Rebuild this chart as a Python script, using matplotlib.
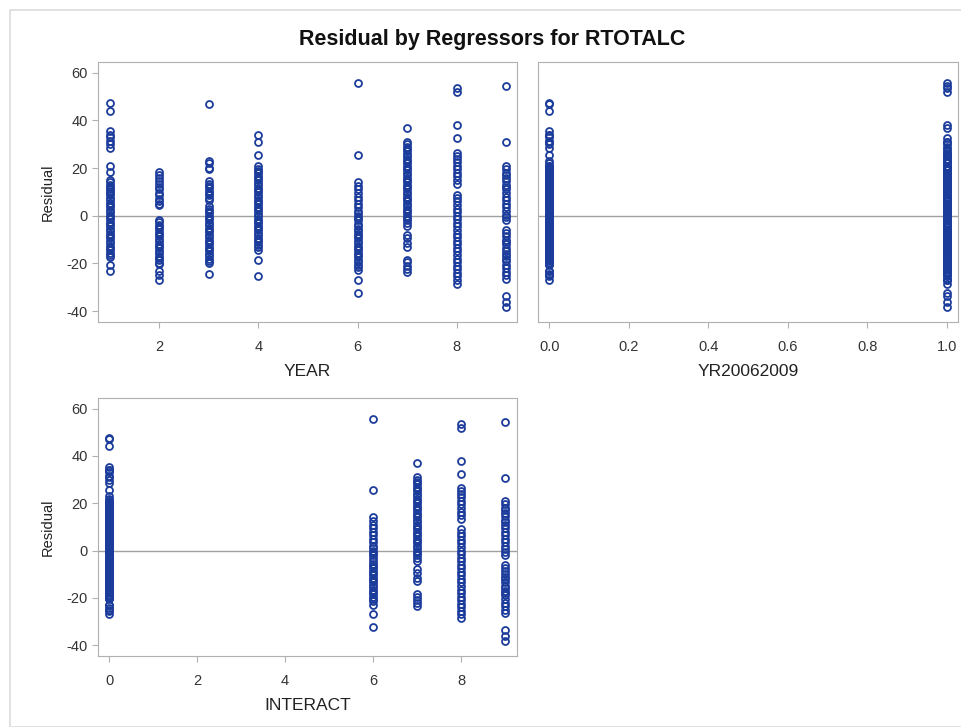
import matplotlib.pyplot as plt
from matplotlib.patches import Rectangle

plt.rcParams['font.family'] = ['Liberation Sans', 'DejaVu Sans']
plt.rcParams['axes.unicode_minus'] = False

# residuals, grouped by YEAR
years = [1, 2, 3, 4, 6, 7, 8, 9]
resid_by_year = [
    [47.5, 44, 35.5, 34, 33, 31.5, 30, 28.5, 21, 18.5, 15, 14, 13, 12, 11, 10.2, 9.5, 8.5, 7.5,
     6.5, 5.5, 4.5, 3.5, 2.5, 1.5, 0.5, -0.5, -1.5, -2.5, -3.5, -4.5, -5.5, -6.5, -7.5, -8.5,
     -9.5, -10.5, -11.5, -12.5, -13.5, -14.5, -15.5, -16.5, -17.2, -20.5, -23],
    [18.5, 17.2, 16, 14.7, 13.5, 12.2, 11, 9.7, 8.5, 7.2, 6, 5, 4.5, -1.7, -2.7, -3.7, -4.7,
     -5.7, -6.7, -7.7, -8.7, -9.7, -10.7, -11.7, -12.7, -13.7, -14.7, -15.7, -16.7, -17.7,
     -18.7, -19.7, -20.2, -23, -25, -27],
    [47, 23, 22, 20.2, 19.5, 14.5, 13.5, 12.5, 11.5, 10.5, 9.5, 8.5, 7.5, 6.8, 4, 3, 2, 1, 0,
     -1, -2, -3, -4, -5, -6, -7, -8, -9, -10, -11, -12, -13, -14, -15, -16, -17, -18, -19, -20,
     -24.5],
    [34, 31, 25.5, 20.8, 19.8, 18.8, 17.8, 16.8, 15.8, 14.8, 13.8, 12.8, 11.8, 10.8, 9.8, 8.8,
     7.8, 6.8, 5.8, 4.8, 3.8, 2.8, 1.8, 0.8, -0.2, -1.2, -2.2, -3.2, -4.2, -5.2, -6.2, -7.2,
     -8.2, -9.2, -10.2, -11.2, -12.2, -13.2, -14.4, -18.6, -25.5],
    [55.5, 25.5, 14, 12.5, 11, 9.5, 8, 6.5, 5, 3.5, 2, 1, 0, -1, -2, -3.3, -4.5, -5.5, -6.5,
     -7.5, -8.5, -9.5, -10.5, -11.5, -12.5, -13.5, -14.5, -15.5, -16.5, -17.5, -18.5, -19.5,
     -20.5, -21.5, -22.9, -26.8, -32.5],
    [37, 31, 30, 29, 28, 27, 26, 25, 24, 23, 22, 21, 20, 19, 18, 17, 16, 15, 14, 13, 12, 11,
     10, 9, 8, 7, 6, 5, 4, 3, 2, 1, 0, -1, -2, -3, -4.5, -8, -9.5, -11.5, -13, -18.4, -19.5,
     -21, -22.3, -23.6],
    [53.7, 52, 38, 32.5, 26.5, 25.2, 24, 22.5, 21, 19.5, 18, 16.5, 15, 13.5, 8.9, 7.5, 6, 4.5,
     3, 1.5, 0, -1.5, -3, -4.5, -6, -7.5, -9, -10.5, -12, -13.5, -15, -16.5, -18, -19.5, -21,
     -22.5, -24, -25.5, -27, -28.5],
    [54.5, 30.8, 20.9, 19.5, 18, 17, 16, 14.5, 13, 12, 11, 9.5, 8, 6.5, 5, 3.5, 2, 0.5, -0.5,
     -1.7, -6, -7.2, -8.5, -10, -11, -12, -13.5, -15, -16, -17, -18, -19, -20.5, -22, -23.5,
     -25, -26.4, -33.5, -36.3, -38.4],
]

year, resid = [], []
for y, r in zip(years, resid_by_year):
    year += [y] * len(r)
    resid += r
# regressors of the model
yr20062009 = [1 if y >= 6 else 0 for y in year]
interact = [y * d for y, d in zip(year, yr20062009)]

blue = '#1c3c9c'
frame = '#b0b0b0'
W, H = 962, 727

fig = plt.figure(figsize=(W / 100, H / 100), dpi=100)
fig.patches.append(Rectangle((10 / W, 0), 1, 1 - 10 / H, transform=fig.transFigure,
                             fill=False, edgecolor='#dcdcdc', lw=1.2))
fig.text(492 / W, 1 - 40 / H, 'Residual by Regressors for RTOTALC', ha='center', va='center',
         fontsize=15.5, fontweight='bold', color='#111111')


def panel(rect, x, xlim, xticks, xlabel, fmt=None, ylab=True):
    l, t, r, b = rect
    ax = fig.add_axes([l / W, 1 - b / H, (r - l) / W, (b - t) / H])
    ax.axhline(0, color='#a0a0a0', lw=1, zorder=1)
    ax.plot(x, resid, 'o', ms=5, mfc='none', mec=blue, mew=1.3, zorder=2)
    ax.set_xlim(*xlim)
    ax.set_ylim(-44.6, 64.5)
    ax.set_xticks(xticks)
    if fmt:
        ax.set_xticklabels([fmt % v for v in xticks])
    ax.set_yticks([-40, -20, 0, 20, 40, 60])
    for s in ax.spines.values():
        s.set_color(frame)
    ax.tick_params(direction='out', length=4, color=frame, labelsize=10.5,
                   labelcolor='#333333')
    ax.tick_params(axis='x', pad=9)
    ax.set_xlabel(xlabel, fontsize=12.5, color='#222222', labelpad=7)
    if ylab:
        ax.set_ylabel('Residual', fontsize=10.5, color='#222222', labelpad=8)
    else:
        ax.tick_params(axis='y', left=False, labelleft=False)
    return ax


panel((98, 62, 517, 322), year, (0.76, 9.22), [2, 4, 6, 8], 'YEAR')
panel((538, 62, 958, 322), yr20062009, (-0.028, 1.028), [0, 0.2, 0.4, 0.6, 0.8, 1.0],
      'YR20062009', fmt='%.1f', ylab=False)
panel((98, 398, 517, 656), interact, (-0.25, 9.27), [0, 2, 4, 6, 8], 'INTERACT')

plt.savefig('out.png', dpi=100)
